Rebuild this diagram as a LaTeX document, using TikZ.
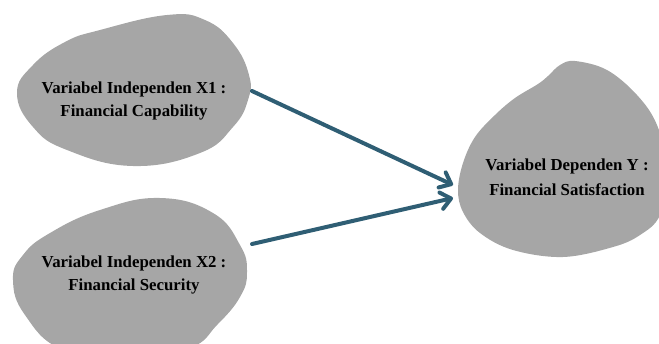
\documentclass[tikz,border=0pt]{standalone}
\usepackage{fontspec}
\setmainfont{Liberation Serif}
\usetikzlibrary{arrows.meta}
\definecolor{blobgray}{RGB}{166,166,166}
\definecolor{linkteal}{RGB}{47,94,116}
\begin{document}
\begin{tikzpicture}[x=0.75pt,y=-0.75pt,blob/.style={fill=blobgray},vartext/.style={align=center,font=\fontsize{12.6}{17.6}\selectfont\bfseries,text=black},link/.style={draw=linkteal,line width=3pt,line cap=round,-{Straight Barb[round,length=7.5pt,width=12.5pt]}}]
\clip(0,0)rectangle(659,343);
\fill[blob]plot[smooth cycle,tension=0.75]coordinates{(17,93)(33,65)(65,42)(100,30)(167,15)(205,20)(233,43)(249,75)(248,100)(233,127)(200,153)(133,166)(67,150)(33,127)};
\fill[blob]plot[smooth cycle,tension=0.75]coordinates{(13,280)(23,255)(50,233)(100,210)(160,198)(213,213)(240,245)(247,272)(240,297)(217,325)(190,348)(130,360)(63,350)(25,315)};
\fill[blob]plot[smooth cycle,tension=0.6]coordinates{(458,190)(463,163)(475,137)(495,115)(515,98)(538,84)(548,76)(560,65)(575,61)(607,70)(637,95)(657,125)(668,170)(660,215)(640,235)(613,247)(563,257)(513,250)(480,233)(463,212)};
\node[vartext](varx1)at(134,101){Variabel Independen X1 :\\Financial Capability};
\node[vartext](varx2)at(134,275){Variabel Independen X2 :\\Financial Security};
\node[vartext](vary)at(567,177){Variabel Dependen Y :\\[1.5pt]Financial Satisfaction};
\coordinate(xone)at(252,91);\coordinate(yone)at(453,185);
\coordinate(xtwo)at(252,244);\coordinate(ytwo)at(453,198);
\foreach\s/\t in{xone/yone,xtwo/ytwo}{\draw[link](\s)--(\t);}
\end{tikzpicture}
\end{document}
